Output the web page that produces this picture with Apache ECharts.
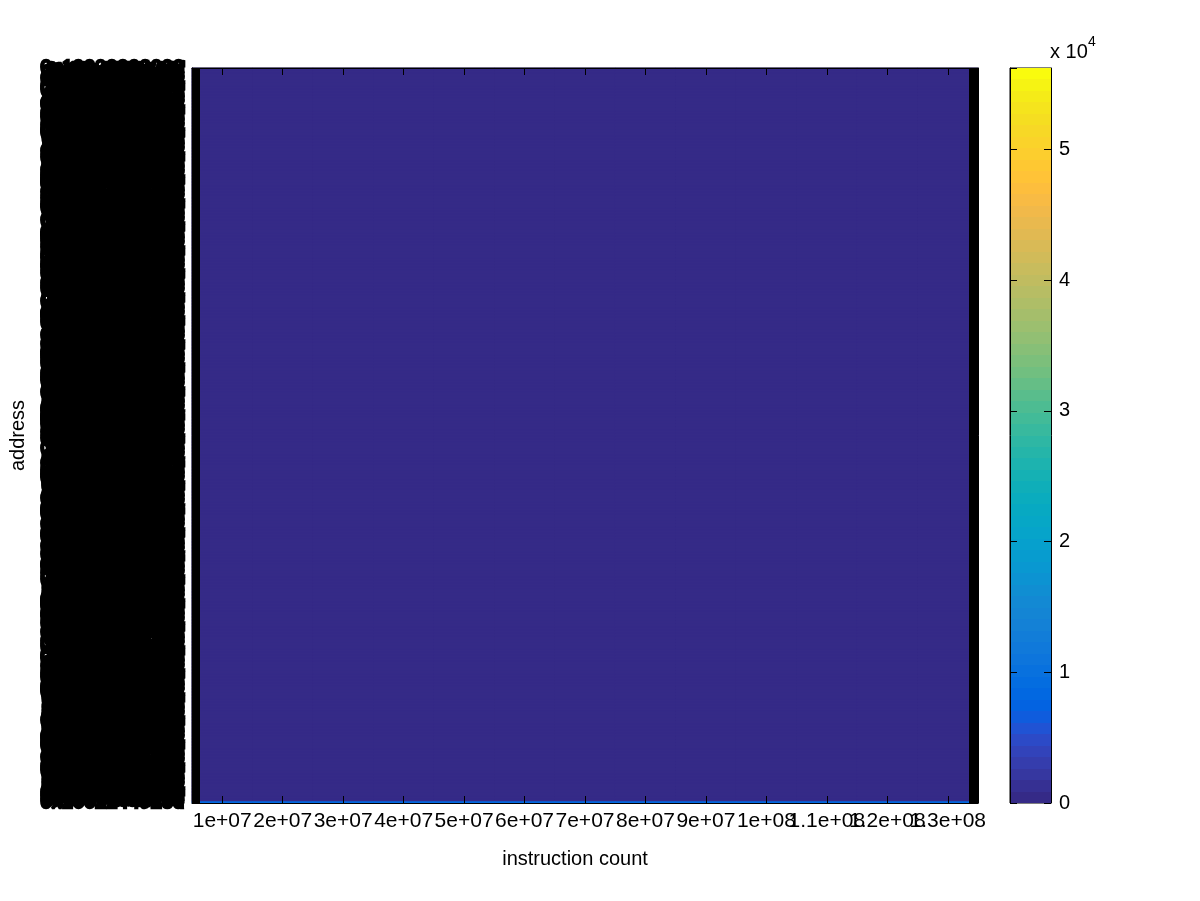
<!DOCTYPE html>
<html><head><meta charset="utf-8">
<script src="https://cdn.jsdelivr.net/npm/echarts@6/dist/echarts.min.js"></script>
<style>html,body{margin:0;padding:0;background:#fff}#c{width:1200px;height:901px}</style>
</head><body><div id="c"></div><script>
// ---------- data ----------
const xLabels = ['1e+07','2e+07','3e+07','4e+07','5e+07','6e+07','7e+07','8e+07','9e+07','1e+08','1.1e+08','1.2e+08','1.3e+08'];
// address labels (unreadable in the reference: they overlap into a black block)
const rowCount = 500;
const addressLow = 0x10000000000;
const addressSpan = 0xe0000000000;
const addressMix = 0x9e3779b97f;
const addresses = [];
for (let i = 0; i < rowCount; i++) addresses.push('0x' + (addressLow + (i * addressMix) % addressSpan).toString(16));
// every cell reads as 0 except the last (bottom) address row
const otherRowsValue = 0;
const lastRowValues = [8000,8000,8000,8000,8000,8000,8000,8000,8000,8000,8000,8000,8000];
const colorMin = 0;
const colorMax = 56240;
const colorTickStep = 10000;

// ---------- parula colormap (64) ----------
const parula = [[0.2081,0.1663,0.5292],[0.2116,0.1898,0.5777],[0.2123,0.2138,0.6270],[0.2081,0.2386,0.6771],[0.1959,0.2645,0.7279],[0.1707,0.2919,0.7792],[0.1253,0.3242,0.8303],[0.0591,0.3598,0.8683],[0.0117,0.3875,0.8820],[0.0060,0.4086,0.8828],[0.0165,0.4266,0.8786],[0.0329,0.4430,0.8720],[0.0498,0.4586,0.8641],[0.0629,0.4737,0.8554],[0.0723,0.4887,0.8467],[0.0779,0.5040,0.8384],[0.0793,0.5200,0.8312],[0.0749,0.5375,0.8263],[0.0641,0.5570,0.8240],[0.0488,0.5772,0.8228],[0.0343,0.5966,0.8199],[0.0265,0.6137,0.8135],[0.0239,0.6287,0.8038],[0.0231,0.6418,0.7913],[0.0228,0.6535,0.7768],[0.0267,0.6642,0.7607],[0.0384,0.6743,0.7436],[0.0590,0.6838,0.7254],[0.0843,0.6928,0.7062],[0.1133,0.7015,0.6859],[0.1453,0.7098,0.6646],[0.1801,0.7177,0.6424],[0.2178,0.7250,0.6193],[0.2586,0.7317,0.5954],[0.3022,0.7376,0.5712],[0.3482,0.7424,0.5473],[0.3953,0.7459,0.5244],[0.4420,0.7481,0.5033],[0.4871,0.7491,0.4840],[0.5300,0.7491,0.4661],[0.5709,0.7485,0.4494],[0.6099,0.7473,0.4337],[0.6473,0.7456,0.4188],[0.6834,0.7435,0.4044],[0.7184,0.7411,0.3905],[0.7525,0.7384,0.3768],[0.7858,0.7356,0.3633],[0.8185,0.7327,0.3498],[0.8507,0.7299,0.3360],[0.8824,0.7274,0.3217],[0.9139,0.7258,0.3063],[0.9450,0.7261,0.2886],[0.9739,0.7314,0.2666],[0.9938,0.7455,0.2403],[0.9990,0.7653,0.2164],[0.9955,0.7861,0.1967],[0.9880,0.8066,0.1794],[0.9789,0.8271,0.1633],[0.9697,0.8481,0.1475],[0.9626,0.8705,0.1309],[0.9589,0.8949,0.1132],[0.9598,0.9218,0.0948],[0.9661,0.9514,0.0755],[0.9763,0.9831,0.0538]];
const toHex = c => '#' + c.map(v => Math.round(v * 255).toString(16).padStart(2, '0')).join('');
const parulaHex = parula.map(toHex);

// ---------- build ----------
const cells = [];
for (let r = 0; r < rowCount; r++) {
  for (let c = 0; c < xLabels.length; c++) {
    cells.push([c, r, r === rowCount - 1 ? lastRowValues[c] : otherRowsValue]);
  }
}
const stops = [];
parulaHex.forEach((col, i) => {
  stops.push({offset: i / parulaHex.length, color: col});
  stops.push({offset: (i + 1) / parulaHex.length, color: col});
});

const FONT = 'Liberation Sans';
const black = '#000';
const chart = echarts.init(document.getElementById('c'), null, {renderer: 'canvas'});
chart.setOption({
  animation: false,
  backgroundColor: '#fff',
  textStyle: {fontFamily: FONT},
  grid: [
    {left: 189, right: 222, top: 68, bottom: 98, show: true, borderColor: black, borderWidth: 1, backgroundColor: parulaHex[0]},
    {left: 1010, width: 41, top: 68, bottom: 98, show: true, borderColor: black, borderWidth: 1, backgroundColor: 'transparent'}
  ],
  visualMap: {
    type: 'continuous', show: false, min: colorMin, max: colorMax, dimension: 2, seriesIndex: 0,
    inRange: {color: parulaHex}
  },
  xAxis: [
    {type: 'category', gridIndex: 0, data: xLabels, position: 'bottom', z: 10,
     axisLine: {show: true, lineStyle: {color: black}},
     axisTick: {show: true, inside: true, length: 7, interval: 0, alignWithLabel: true, lineStyle: {color: black}},
     axisLabel: {interval: 0, fontSize: 21, color: black, margin: 8, fontFamily: FONT, hideOverlap: false},
     splitLine: {show: false},
     name: 'instruction count', nameLocation: 'middle', nameGap: 46,
     nameTextStyle: {fontSize: 20, color: black, fontFamily: FONT, padding: [0, 20, 0, 0]}},
    {type: 'category', gridIndex: 0, data: xLabels, position: 'top', z: 10,
     axisLine: {show: true, lineStyle: {color: black}},
     axisTick: {show: true, inside: true, length: 7, interval: 0, alignWithLabel: true, lineStyle: {color: black}},
     axisLabel: {show: false}, splitLine: {show: false}},
    {type: 'category', gridIndex: 1, data: ['colorbar'], show: false}
  ],
  yAxis: [
    {type: 'category', gridIndex: 0, data: addresses, inverse: true, position: 'left', z: 10,
     axisLine: {show: true, lineStyle: {color: black}},
     axisTick: {show: true, inside: true, length: 8, interval: 0, alignWithLabel: true, lineStyle: {color: black, width: 2}},
     axisLabel: {interval: 0, fontSize: 20, color: black, margin: 8, fontFamily: FONT, hideOverlap: false,
                 textBorderColor: black, textBorderWidth: 2.5},
     splitLine: {show: false},
     name: 'address', nameLocation: 'middle', nameGap: 164, nameRotate: 90,
     nameTextStyle: {fontSize: 20, color: black, fontFamily: FONT}},
    {type: 'category', gridIndex: 0, data: addresses, inverse: true, position: 'right', z: 10,
     axisLine: {show: true, lineStyle: {color: black}},
     axisTick: {show: true, inside: true, length: 9, interval: 0, alignWithLabel: true, lineStyle: {color: black, width: 2}},
     axisLabel: {show: false}, splitLine: {show: false}},
    {type: 'value', gridIndex: 1, min: colorMin, max: colorMax, interval: colorTickStep, position: 'right', z: 10,
     axisLine: {show: true, lineStyle: {color: black}},
     axisTick: {show: true, inside: true, length: 7, lineStyle: {color: black}},
     axisLabel: {fontSize: 20, color: black, margin: 8, fontFamily: FONT, showMaxLabel: false,
       formatter: v => (v % colorTickStep === 0 ? String(v / colorTickStep) : '')},
     splitLine: {show: false}},
    {type: 'value', gridIndex: 1, min: colorMin, max: colorMax, interval: colorTickStep, position: 'left', z: 10,
     axisLine: {show: true, lineStyle: {color: black}},
     axisTick: {show: true, inside: true, length: 7, lineStyle: {color: black}},
     axisLabel: {show: false}, splitLine: {show: false}}
  ],
  series: [
    {type: 'heatmap', xAxisIndex: 0, yAxisIndex: 0, data: cells, progressive: 0, z: 1,
     itemStyle: {borderWidth: 0}, emphasis: {disabled: true}},
    {type: 'bar', xAxisIndex: 2, yAxisIndex: 2, data: [colorMax], barWidth: '100%', silent: true, z: 1,
     itemStyle: {color: new echarts.graphic.LinearGradient(0, 1, 0, 0, stops)}}
  ],
  graphic: [
    {type: 'text', left: 1050, top: 42, style: {text: 'x 10', font: '20px "Liberation Sans"', fill: black}},
    {type: 'text', left: 1088, top: 35, style: {text: '4', font: '14px "Liberation Sans"', fill: black}}
  ]
});
</script></body></html>
